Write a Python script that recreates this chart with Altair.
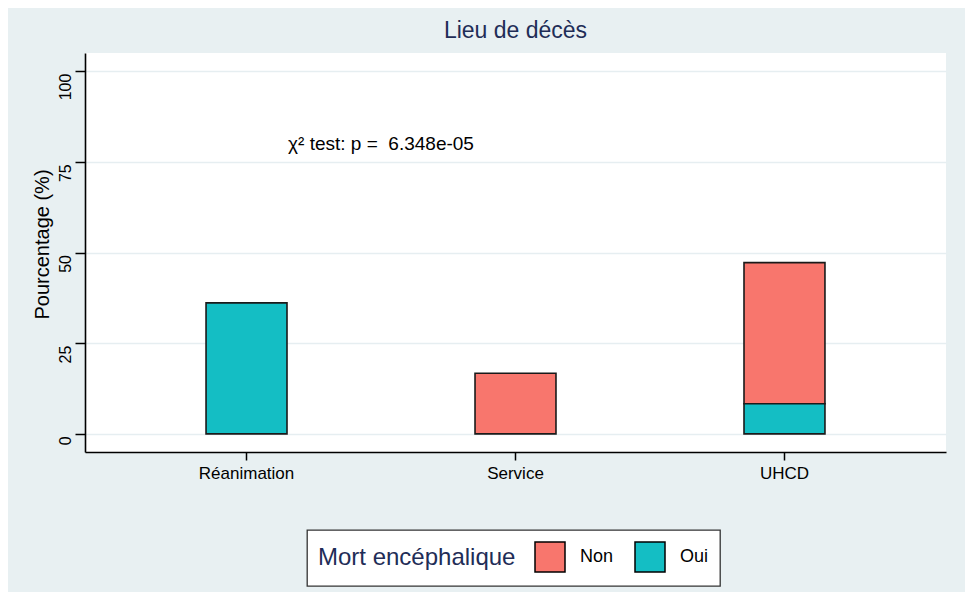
import altair as alt
import pandas as pd

# ---- data ----
lieux = ["Réanimation", "Service", "UHCD"]
mort_levels = ["Non", "Oui"]
lieu_col = ["Réanimation", "Réanimation", "Service", "Service", "UHCD", "UHCD"]
mort_col = ["Non", "Oui", "Non", "Oui", "Non", "Oui"]
pourcentages = [0.0, 36.1, 16.7, 0.0, 38.9, 8.3]
couleurs = ["#F8766D", "#14BEC4"]
y_ticks = [0, 25, 50, 75, 100]
annot_lieu = ["Réanimation"]
annot_y = [80]
annot_text = ["χ² test: p =\u00a0 6.348e-05"]

FONT = "Liberation Sans"
NAVY = "#1F2D57"

df = pd.DataFrame({"lieu": lieu_col, "mort": mort_col, "pct": pourcentages})
df_annot = pd.DataFrame({"lieu": annot_lieu, "y": annot_y, "label": annot_text})

x_scale = alt.Scale(domain=lieux, paddingInner=0.699, paddingOuter=0.45)
y_scale = alt.Scale(domain=[-5, 105], nice=False, zero=False)

bars = (
    alt.Chart(df)
    .transform_filter("datum.pct > 0")
    .transform_calculate(ord="datum.mort == 'Oui' ? 0 : 1")
    .mark_bar(stroke="#1a1a1a", strokeWidth=1.6)
    .encode(
        x=alt.X(
            "lieu:N",
            scale=x_scale,
            sort=lieux,
            axis=alt.Axis(
                title=None,
                labelAngle=0,
                labelFont=FONT,
                labelFontSize=17,
                labelColor="black",
                labelPadding=5,
                tickSize=8,
                tickColor="black",
                tickWidth=1.5,
                domainColor="black",
                domainWidth=1.6,
                grid=False,
            ),
        ),
        y=alt.Y(
            "pct:Q",
            stack="zero",
            scale=y_scale,
            axis=alt.Axis(
                values=y_ticks,
                title="Pourcentage (%)",
                titleFont=FONT,
                titleFontSize=20,
                titleFontWeight="normal",
                titleColor="black",
                titleAngle=270,
                titleX=-37,
                titleY=191,
                titleAlign="center",
                titleBaseline="alphabetic",
                labelAngle=270,
                labelAlign="right",
                labelBaseline="alphabetic",
                labelPadding=5,
                labelOffset=2,
                labelFont=FONT,
                labelFontSize=16,
                labelColor="black",
                tickSize=10,
                tickColor="black",
                tickWidth=1.5,
                domainColor="black",
                domainWidth=1.6,
                grid=True,
                gridColor="#E6EEF1",
                gridWidth=1.6,
            ),
        ),
        color=alt.Color(
            "mort:N",
            scale=alt.Scale(domain=mort_levels, range=couleurs),
            legend=alt.Legend(
                title="Mort encéphalique",
                orient="none",
                legendX=222,
                legendY=477,
                direction="horizontal",
                titleOrient="left",
                titleFont=FONT,
                titleFontSize=24,
                titleFontWeight="normal",
                titleColor=NAVY,
                titleBaseline="middle",
                titlePadding=18,
                titleLimit=500,
                labelFont=FONT,
                labelFontSize=18,
                labelColor="black",
                labelOffset=14,
                labelLimit=200,
                columnPadding=18,
                symbolType="square",
                symbolSize=900,
                symbolStrokeColor="black",
                symbolStrokeWidth=1.5,
                symbolOpacity=1,
                padding=11,
                fillColor="white",
                strokeColor="#333333",
            ),
        ),
        order=alt.Order("ord:Q", sort="ascending"),
    )
)

annot = (
    alt.Chart(df_annot)
    .mark_text(font=FONT, fontSize=19, color="black", align="center", baseline="middle", dx=134.5)
    .encode(x=alt.X("lieu:N", scale=x_scale, sort=lieux), y=alt.Y("y:Q", scale=y_scale), text="label:N")
)

chart = (
    alt.layer(bars, annot)
    .properties(
        width=861,
        height=399,
        autosize=alt.AutoSizeParams(type="none"),
        padding={"left": 77, "top": 45, "right": 19, "bottom": 140},
        title=alt.TitleParams(
            "Lieu de décès",
            font=FONT,
            fontSize=23,
            fontWeight="normal",
            color=NAVY,
            anchor="middle",
            offset=10,
        ),
    )
    .configure(background="#E8F0F2")
    .configure_view(stroke=None, fill="white")
    .configure_legend(strokeWidth=1.3)
)

chart.save("out.html", embed_options={"renderer": "svg", "actions": False})
